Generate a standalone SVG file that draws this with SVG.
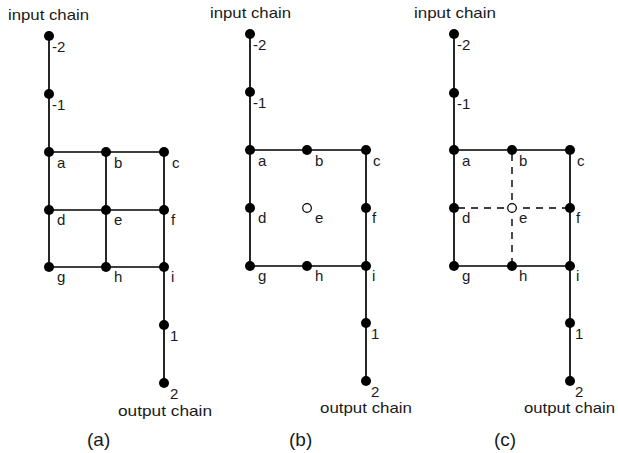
<svg xmlns="http://www.w3.org/2000/svg" width="618" height="453" viewBox="0 0 618 453">
<style>
.ln{stroke:#000;stroke-width:1.7;fill:none}
.ds{stroke:#000;stroke-width:1.4;fill:none;stroke-dasharray:7,6}
.dot{fill:#000}
.open{fill:#fff;stroke:#000;stroke-width:1.2}
text{font-family:"Liberation Sans",Arial,sans-serif;fill:#1a1a1a}
.lb{font-size:15px}
.cap{font-size:15px}
.pl{font-size:19px}
</style>
<rect width="618" height="453" fill="#fff"/>
<g id="connectors">
<polyline class="ln" points="49,36 49,267 164,267 164,383"/>
<polyline class="ln" points="49,152 164,152 164,267"/>
<line class="ln" x1="49" y1="210" x2="164" y2="210"/>
<line class="ln" x1="106" y1="152" x2="106" y2="267"/>
<polyline class="ln" points="250,34 250,266 366,266 366,381"/>
<polyline class="ln" points="250,150 366,150 366,266"/>
<polyline class="ln" points="454,34 454,266 570,266 570,381"/>
<polyline class="ln" points="454,150 570,150 570,266"/>
<line class="ds" x1="458" y1="208" x2="570" y2="208"/>
<line class="ds" x1="512" y1="154" x2="512" y2="266"/>
</g>
<g id="panel-a">
<text class="cap" x="8" y="20" textLength="81" lengthAdjust="spacingAndGlyphs">input chain</text>
<g id="a-m2"><circle class="dot" cx="49" cy="36" r="5"/><text class="lb" x="52" y="52">-2</text></g>
<g id="a-m1"><circle class="dot" cx="49" cy="94" r="5"/><text class="lb" x="52" y="110">-1</text></g>
<g id="a-a"><circle class="dot" cx="49" cy="152" r="5"/><text class="lb" x="57" y="168">a</text></g>
<g id="a-b"><circle class="dot" cx="106" cy="152" r="5"/><text class="lb" x="114" y="168">b</text></g>
<g id="a-c"><circle class="dot" cx="164" cy="152" r="5"/><text class="lb" x="172" y="168">c</text></g>
<g id="a-d"><circle class="dot" cx="49" cy="210" r="5"/><text class="lb" x="57" y="225">d</text></g>
<g id="a-e"><circle class="dot" cx="106" cy="210" r="5"/><text class="lb" x="114" y="225">e</text></g>
<g id="a-f"><circle class="dot" cx="164" cy="210" r="5"/><text class="lb" x="171" y="225">f</text></g>
<g id="a-g"><circle class="dot" cx="49" cy="267" r="5"/><text class="lb" x="57" y="282">g</text></g>
<g id="a-h"><circle class="dot" cx="106" cy="267" r="5"/><text class="lb" x="114" y="282">h</text></g>
<g id="a-i"><circle class="dot" cx="164" cy="267" r="5"/><text class="lb" x="171" y="282">i</text></g>
<g id="a-1"><circle class="dot" cx="164" cy="325" r="5"/><text class="lb" x="170" y="341">1</text></g>
<g id="a-2"><circle class="dot" cx="164" cy="383" r="5"/><text class="lb" x="170" y="399">2</text></g>
<text class="cap" x="118" y="416" textLength="94" lengthAdjust="spacingAndGlyphs">output chain</text>
<text class="pl" x="87" y="446">(a)</text>
</g>
<g id="panel-b">
<text class="cap" x="210" y="18" textLength="81" lengthAdjust="spacingAndGlyphs">input chain</text>
<g id="b-m2"><circle class="dot" cx="250" cy="34" r="5"/><text class="lb" x="253" y="50">-2</text></g>
<g id="b-m1"><circle class="dot" cx="250" cy="92" r="5"/><text class="lb" x="253" y="108">-1</text></g>
<g id="b-a"><circle class="dot" cx="250" cy="150" r="5"/><text class="lb" x="258" y="166">a</text></g>
<g id="b-b"><circle class="dot" cx="307" cy="150" r="5"/><text class="lb" x="315" y="166">b</text></g>
<g id="b-c"><circle class="dot" cx="366" cy="150" r="5"/><text class="lb" x="373" y="166">c</text></g>
<g id="b-d"><circle class="dot" cx="250" cy="208" r="5"/><text class="lb" x="258" y="223">d</text></g>
<g id="b-e"><circle class="open" cx="307" cy="208" r="4.3"/><text class="lb" x="315" y="223">e</text></g>
<g id="b-f"><circle class="dot" cx="366" cy="208" r="5"/><text class="lb" x="372" y="223">f</text></g>
<g id="b-g"><circle class="dot" cx="250" cy="266" r="5"/><text class="lb" x="258" y="281">g</text></g>
<g id="b-h"><circle class="dot" cx="307" cy="266" r="5"/><text class="lb" x="315" y="281">h</text></g>
<g id="b-i"><circle class="dot" cx="366" cy="266" r="5"/><text class="lb" x="372" y="281">i</text></g>
<g id="b-1"><circle class="dot" cx="366" cy="323" r="5"/><text class="lb" x="371" y="339">1</text></g>
<g id="b-2"><circle class="dot" cx="366" cy="381" r="5"/><text class="lb" x="371" y="397">2</text></g>
<text class="cap" x="320" y="413" textLength="92" lengthAdjust="spacingAndGlyphs">output chain</text>
<text class="pl" x="289" y="446">(b)</text>
</g>
<g id="panel-c">
<text class="cap" x="414" y="18" textLength="82" lengthAdjust="spacingAndGlyphs">input chain</text>
<g id="c-m2"><circle class="dot" cx="454" cy="34" r="5"/><text class="lb" x="457" y="50">-2</text></g>
<g id="c-m1"><circle class="dot" cx="454" cy="93" r="5"/><text class="lb" x="457" y="109">-1</text></g>
<g id="c-a"><circle class="dot" cx="454" cy="150" r="5"/><text class="lb" x="462" y="166">a</text></g>
<g id="c-b"><circle class="dot" cx="512" cy="150" r="5"/><text class="lb" x="519" y="166">b</text></g>
<g id="c-c"><circle class="dot" cx="570" cy="150" r="5"/><text class="lb" x="577" y="166">c</text></g>
<g id="c-d"><circle class="dot" cx="454" cy="208" r="5"/><text class="lb" x="462" y="223">d</text></g>
<g id="c-e"><circle class="open" cx="512" cy="208" r="4.3"/><text class="lb" x="519" y="223">e</text></g>
<g id="c-f"><circle class="dot" cx="570" cy="208" r="5"/><text class="lb" x="576" y="223">f</text></g>
<g id="c-g"><circle class="dot" cx="454" cy="266" r="5"/><text class="lb" x="462" y="281">g</text></g>
<g id="c-h"><circle class="dot" cx="512" cy="266" r="5"/><text class="lb" x="519" y="281">h</text></g>
<g id="c-i"><circle class="dot" cx="570" cy="266" r="5"/><text class="lb" x="576" y="281">i</text></g>
<g id="c-1"><circle class="dot" cx="570" cy="323" r="5"/><text class="lb" x="575" y="339">1</text></g>
<g id="c-2"><circle class="dot" cx="570" cy="381" r="5"/><text class="lb" x="575" y="397">2</text></g>
<text class="cap" x="524" y="413" textLength="91" lengthAdjust="spacingAndGlyphs">output chain</text>
<text class="pl" x="494" y="446">(c)</text>
</g>
</svg>
